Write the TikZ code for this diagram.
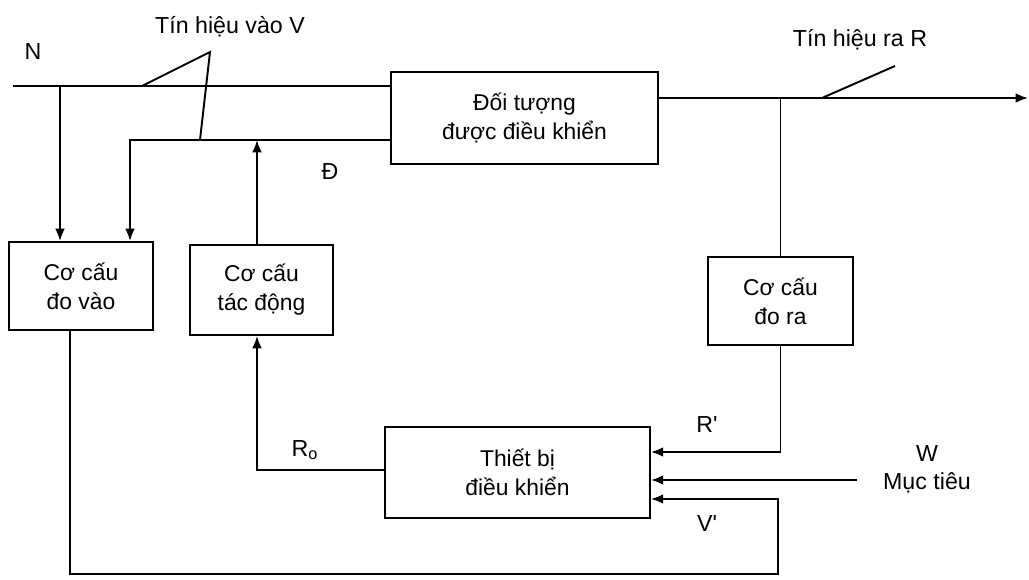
\documentclass[tikz,border=0pt]{standalone}
\usepackage{fontspec}
\setmainfont{Liberation Sans}
\usetikzlibrary{arrows.meta}
\usetikzlibrary{calc}

\begin{document}
\begin{tikzpicture}[x=0.02cm, y=-0.02cm, line width=1.1pt, >={Latex[length=7pt,width=5.5pt]},
	block/.style={draw, inner sep=0pt, align=center, font=\fontsize{13}{16.5}\selectfont},
	lbl/.style={inner sep=0pt, font=\fontsize{13.2}{15}\selectfont}]
	
		\useasboundingbox (0,0) rectangle (1029,580);
	
		%blocks
		\node[block, minimum width=5.34cm, minimum height=1.84cm] (doituong) at (524.5,118) {Đối tượng\\được điều khiển};
		\node[block, minimum width=2.88cm, minimum height=1.76cm] (dovao) at (81,286) {Cơ cấu\\đo vào};
		\node[block, minimum width=2.86cm, minimum height=1.8cm] (tacdong) at (261.5,290) {Cơ cấu\\tác động};
		\node[block, minimum width=2.9cm, minimum height=1.76cm] (dora) at (780.5,301) {Cơ cấu\\đo ra};
		\node[block, minimum width=5.3cm, minimum height=1.82cm] (thietbi) at (517.5,472.5) {Thiết bị\\điều khiển};
	
		%wire coords
		\coordinate (nin) at (13,86);
		\coordinate (ntap) at (60,86);
		\coordinate (dwire) at (130,140);
		\coordinate (tdcol) at (257,140);
		\coordinate (rout) at (658,98);
		\coordinate (rend) at (1028,98);
		\coordinate (rtap) at (822,98);
		\coordinate (rtip) at (895,66);
		\coordinate (vtap) at (142,86);
		\coordinate (vtip) at (210,52);
		\coordinate (vdrop) at (200,140);
		\coordinate (wmt) at (857,480);
		\coordinate (vbl) at (70,574);
		\coordinate (vbr) at (778,574);
	
		%input side
		\draw (nin) -- (nin -| doituong.west);
		\draw[->] (ntap) -- (ntap |- dovao.north);
		\draw[->] (dwire -| doituong.west) -- (dwire) -- (dwire |- dovao.north);
		\draw[->] (tdcol |- tacdong.north) -- (tdcol);
		\draw (vtap) -- (vtip) -- (vdrop);
	
		%output side
		\draw[->] (rout) -- (rend);
		\draw (dora.north |- rout) -- (dora.north);
		\draw (rtap) -- (rtip);
	
		%feedback into controller
		\draw[->] (dora.south) -- (dora.south |- 0,452) -- (thietbi.east |- 0,452);
		\draw[->] (wmt) -- (wmt -| thietbi.east);
		\draw[->] (vbl |- dovao.south) -- (vbl) -- (vbr) -- (vbr |- 0,499) -- (thietbi.east |- 0,499);
		\draw[->] (thietbi.west |- 0,470) -- (tdcol |- 0,470) -- (tdcol |- tacdong.south);
	
		%labels
		\node[lbl] (lN) at (33,52) {N};
		\node[lbl] (lV) at (230,27) {Tín hiệu vào V};
		\node[lbl] (lD) at (330,172) {Đ};
		\node[lbl] (lR) at (860,40) {Tín hiệu ra R};
		\node[lbl] (lRp) at (707,425) {R\textquotesingle};
		\node[lbl] (lW) at (927,454) {W};
		\node[lbl] (lMt) at (927,483) {Mục tiêu};
		\node[lbl] (lVp) at (707,524) {V\textquotesingle};
		\node[lbl] (lRo) at (305,450) {R\textsubscript{o}};
	
	\end{tikzpicture}
\end{document}
